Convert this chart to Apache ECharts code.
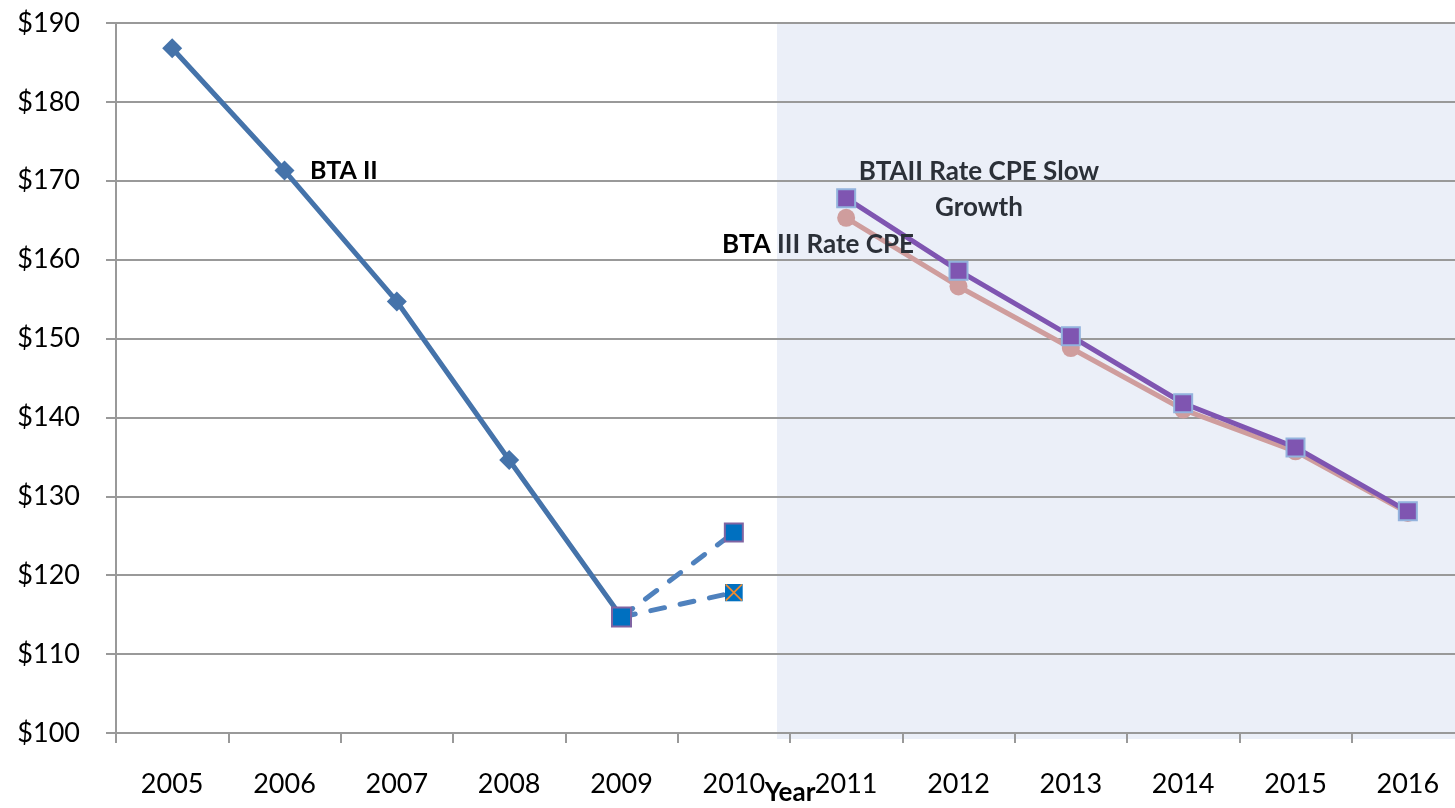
<!DOCTYPE html>
<html>
<head>
<meta charset="utf-8">
<script src="https://cdn.jsdelivr.net/npm/echarts@6/dist/echarts.min.js"></script>
<style>
html,body{margin:0;padding:0;background:#fff;}
#c{width:1455px;height:808px;}
</style>
</head>
<body>
<div id="c"></div>
<script>
const years = ['2005','2006','2007','2008','2009','2010','2011','2012','2013','2014','2015','2016'];
const btaII = [186.8, 171.3, 154.7, 134.6, 114.7, null, null, null, null, null, null, null];
const dashHigh = [null, null, null, null, 114.7, 125.4, null, null, null, null, null, null];
const dashLow = [null, null, null, null, 114.7, 117.8, null, null, null, null, null, null];
const btaIIIRateCPE = [null, null, null, null, null, null, 165.3, 156.6, 148.8, 141.0, 135.7, 127.9];
const slowGrowth = [null, null, null, null, null, null, 167.8, 158.6, 150.3, 141.8, 136.2, 128.1];
const yMin = 100, yMax = 190, yStep = 10;

const FONT = 'Lato';
const xSvg = '<svg xmlns="http://www.w3.org/2000/svg" width="20" height="20" viewBox="0 0 20 20">' +
  '<rect x="0" y="0" width="20" height="20" fill="#0070C0"/>' +
  '<line x1="1" y1="1" x2="19" y2="19" stroke="#EE8A2E" stroke-width="2"/>' +
  '<line x1="19" y1="1" x2="1" y2="19" stroke="#EE8A2E" stroke-width="2"/></svg>';
const xSymbol = 'image://data:image/svg+xml;utf8,' + encodeURIComponent(xSvg);

const sqStyle = {color: '#0070C0', borderColor: '#8064A2', borderWidth: 2};

const chart = echarts.init(document.getElementById('c'), null, {renderer: 'canvas'});
chart.setOption({
  animation: false,
  backgroundColor: '#fff',
  grid: {left: 116, top: 23, width: 1348, height: 710, containLabel: false, outerBoundsMode: 'none'},
  graphic: {
    elements: [
      {type: 'rect', z: -10, silent: true, shape: {x: 777, y: 23, width: 700, height: 716}, style: {fill: '#EBEFF8'}},
      {type: 'text', z: 100, left: 310, top: 158, style: {text: 'BTA II', font: 'bold 25px Lato', fill: '#000'}},
      {type: 'text', z: 100, x: 979, y: 154, style: {text: 'BTAII Rate CPE Slow\nGrowth', font: 'bold 26px Lato', fill: '#2B3038', align: 'center', lineHeight: 36}},
      {type: 'text', z: 100, left: 722, top: 232, style: {text: '{a|BTA} {b|III Rate CPE}', rich: {a: {font: 'bold 26px Lato', fill: '#000'}, b: {font: 'bold 26px Lato', fill: '#2B3038'}}, font: 'bold 26px Lato'}}
    ]
  },
  xAxis: {
    type: 'category',
    data: years,
    boundaryGap: true,
    name: 'Year',
    nameLocation: 'middle',
    nameGap: 47,
    nameMoveOverlap: false,
    nameTextStyle: {fontFamily: FONT, fontWeight: 'bold', fontSize: 26, color: '#000'},
    axisLine: {show: true, lineStyle: {color: '#999', width: 2}},
    axisTick: {show: true, alignWithLabel: false, length: 10, lineStyle: {color: '#999', width: 2}},
    axisLabel: {fontFamily: FONT, fontSize: 27, color: '#000', margin: 38, interval: 0},
    splitLine: {show: false}
  },
  yAxis: {
    type: 'value',
    min: yMin, max: yMax, interval: yStep,
    axisLine: {show: true, lineStyle: {color: '#999', width: 2}},
    axisTick: {show: true, length: 10, lineStyle: {color: '#999', width: 2}},
    axisLabel: {fontFamily: FONT, fontSize: 27, color: '#000', margin: 36, formatter: v => '$' + v},
    splitLine: {show: true, lineStyle: {color: '#999', width: 2}}
  },
  series: [
    {
      name: 'BTA II', type: 'line', data: btaII, z: 3,
      symbol: 'diamond', symbolSize: 20, showAllSymbol: true,
      lineStyle: {color: '#4573AA', width: 5},
      itemStyle: {color: '#4573AA'}
    },
    {
      name: 'High', type: 'line', data: dashHigh, z: 4,
      symbol: 'rect', symbolSize: 18,
      lineStyle: {color: '#4F81BD', width: 5, type: [14, 16], cap: 'round'},
      itemStyle: sqStyle
    },
    {
      name: 'Low', type: 'line', z: 4,
      data: dashLow.map((v, i) => (v != null && i === 5) ? {value: v, symbol: xSymbol, symbolSize: 18} : v),
      symbol: 'rect', symbolSize: 19,
      lineStyle: {color: '#4F81BD', width: 5, type: [14, 16], cap: 'round'},
      itemStyle: sqStyle
    },
    {
      name: 'BTA III Rate CPE', type: 'line', data: btaIIIRateCPE, z: 5,
      symbol: 'circle', symbolSize: 18,
      lineStyle: {color: '#CF9D9D', width: 5},
      itemStyle: {color: '#CF9D9D'}
    },
    {
      name: 'BTAII Rate CPE Slow Growth', type: 'line', data: slowGrowth, z: 6,
      symbol: 'rect', symbolSize: 18,
      lineStyle: {color: '#7F55B1', width: 5},
      itemStyle: {color: '#7F55B1', borderColor: '#93B3DD', borderWidth: 2}
    }
  ]
});
</script>
</body>
</html>
